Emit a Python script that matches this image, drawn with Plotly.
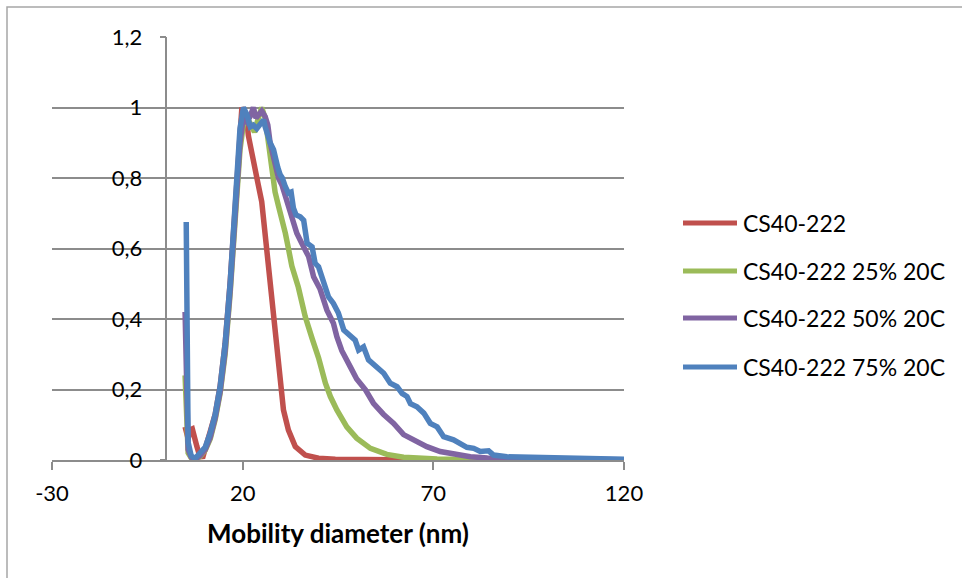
import plotly.graph_objects as go

# ---- data ----
series_names = ["CS40-222", "CS40-222 25% 20C", "CS40-222 50% 20C", "CS40-222 75% 20C"]
series_colors = ["#C0504D", "#9BBB59", "#8064A2", "#4F81BD"]

red_x = [4.9, 5.7, 6.2, 6.8, 8.0, 8.8, 9.6, 10.2, 11.5, 12.8, 14.1, 15.4, 16.7, 18.0, 19.1, 19.8,
         20.4, 21.1, 21.5, 22.4, 23.3, 24.1, 25.0, 25.9, 27.2, 28.1, 29.0, 29.8, 30.7, 32.0, 33.8,
         36.4, 39.9, 44.3, 53.5, 66.6]
red_y = [0.094, 0.06, 0.085, 0.088, 0.038, 0.009, 0.01, 0.035, 0.075, 0.13, 0.21, 0.33, 0.50, 0.71, 0.90, 1.0,
         0.985, 0.96, 0.92, 0.865, 0.81, 0.78, 0.733, 0.643, 0.50, 0.407, 0.312, 0.218, 0.142, 0.085, 0.038,
         0.014, 0.005, 0.002, 0.001, 0.0]

green_x = [4.9, 5.3, 5.7, 6.5, 7.5, 8.8, 10.2, 11.5, 12.8, 14.1, 15.4, 16.7, 18.0, 19.3, 20.4, 21.2,
           22.2, 23.1, 24.1, 25.0, 25.9, 26.8, 27.7, 28.5, 29.4, 30.7, 31.2, 32.0, 32.9, 34.6, 36.4,
           38.2, 39.9, 41.7, 43.0, 44.7, 47.3, 49.9, 53.5, 57.8, 62.2, 71.0, 82.3, 120.0]
green_y = [0.24, 0.08, 0.02, 0.006, 0.002, 0.01, 0.028, 0.06, 0.115, 0.19, 0.30, 0.47, 0.67, 0.88, 0.97, 0.97,
           0.95, 0.93, 0.97, 1.0, 0.97, 0.89, 0.82, 0.76, 0.72, 0.67, 0.643, 0.60, 0.55, 0.49, 0.407,
           0.345, 0.29, 0.218, 0.18, 0.142, 0.094, 0.062, 0.033, 0.016, 0.008, 0.003, 0.001, 0.0005]

purple_x = [4.9, 5.3, 5.7, 6.5, 7.5, 8.8, 10.2, 11.5, 12.8, 14.1, 15.4, 16.7, 18.0, 19.3, 20.2, 21.1,
            22.0, 22.8, 23.5, 24.1, 25.0, 25.9, 26.6, 27.2, 28.1, 29.4, 30.3, 31.2, 32.5, 34.2, 35.5,
            37.3, 38.6, 40.3, 42.1, 43.8, 44.7, 46.0, 48.2, 49.9, 52.2, 54.3, 56.9, 59.6, 62.2, 64.8,
            68.3, 71.8, 76.2, 79.7, 84.2, 95.5, 108.6, 120.0]
purple_y = [0.42, 0.15, 0.03, 0.008, 0.002, 0.012, 0.03, 0.065, 0.12, 0.195, 0.31, 0.48, 0.68, 0.90, 0.975, 0.96,
            0.975, 1.0, 0.97, 0.98, 0.99, 0.974, 0.95, 0.90, 0.86, 0.80, 0.78, 0.745, 0.70, 0.643, 0.615,
            0.577, 0.52, 0.485, 0.425, 0.388, 0.35, 0.31, 0.265, 0.23, 0.199, 0.161, 0.13, 0.104, 0.072, 0.057,
            0.038, 0.024, 0.014, 0.009, 0.006, 0.003, 0.002, 0.001]

blue_x = [5.2, 5.4, 5.7, 6.5, 7.5, 8.8, 10.2, 11.5, 12.8, 14.1, 15.4, 16.7, 18.0, 18.7, 19.3, 20.2,
          21.1, 22.0, 22.8, 23.7, 24.6, 25.5, 25.9, 26.6, 27.2, 28.1, 28.5, 29.2, 29.8, 30.4, 31.2,
          32.0, 32.7, 33.3, 34.0, 35.1, 36.0, 36.9, 38.2, 39.0, 39.9, 41.2, 42.5, 43.8, 45.1, 46.5,
          48.2, 49.5, 50.4, 51.7, 53.0, 55.2, 57.0, 58.7, 60.5, 61.8, 63.1, 64.0, 65.7, 67.5, 69.2,
          71.0, 72.7, 75.3, 77.1, 78.8, 80.6, 82.3, 84.5, 85.8, 89.3, 93.6, 98.1, 106.7, 120.1]
blue_y = [0.675, 0.30, 0.05, 0.012, 0.004, 0.02, 0.037, 0.077, 0.13, 0.21, 0.33, 0.50, 0.70, 0.80, 0.94, 1.0,
          0.98, 0.945, 0.95, 0.94, 0.955, 0.965, 0.945, 0.92, 0.90, 0.88, 0.855, 0.83, 0.81, 0.80, 0.775,
          0.757, 0.76, 0.715, 0.695, 0.69, 0.68, 0.615, 0.605, 0.558, 0.548, 0.50, 0.463, 0.444, 0.417, 0.369,
          0.35, 0.34, 0.312, 0.321, 0.284, 0.265, 0.246, 0.218, 0.208, 0.189, 0.18, 0.16, 0.151, 0.133, 0.104,
          0.094, 0.066, 0.057, 0.047, 0.036, 0.033, 0.024, 0.026, 0.014, 0.009, 0.008, 0.005, 0.003, 0.002]

y_tickvals = [0, 0.2, 0.4, 0.6, 0.8, 1.0, 1.2]
y_ticktext = ["0", "0,2", "0,4", "0,6", "0,8", "1", "1,2"]
x_tickvals = [-30, 20, 70, 120]
x_ticktext = ["-30", "20", "70", "120"]
x_title = "Mobility diameter (nm)"

# ---- layout constants (page pixels) ----
W, H = 962, 578
PL, PR, PT, PB = 52, 624, 37, 460
FONT = "Lato, Calibri, Carlito, sans-serif"
GRID = "#8C8C8C"

def px_x(p):
    return (p - PL) / (PR - PL)

def px_y(p):
    return (PB - p) / (PB - PT)

fig = go.Figure()
all_x = [red_x, green_x, purple_x, blue_x]
all_y = [red_y, green_y, purple_y, blue_y]
for name, col, xs, ys in zip(series_names, series_colors, all_x, all_y):
    fig.add_trace(go.Scatter(x=xs, y=ys, mode="lines", name=name,
                             line=dict(color=col, width=5.5), showlegend=False))

fig.update_layout(
    width=W, height=H,
    margin=dict(l=PL, r=W - PR, t=PT, b=H - PB, pad=0),
    paper_bgcolor="white", plot_bgcolor="white",
    font=dict(family=FONT, size=22, color="#000000"),
    showlegend=False,
)
fig.update_xaxes(
    range=[-30, 120], tickvals=x_tickvals, ticktext=x_ticktext,
    showgrid=False, zeroline=False,
    showline=True, linecolor=GRID, linewidth=1.5,
    ticks="outside", ticklen=8, tickcolor=GRID, tickwidth=1.5,
    ticklabelstandoff=5,
    title=dict(text="<b>" + x_title + "</b>", font=dict(size=26), standoff=20),
)
fig.update_yaxes(
    range=[0, 1.2], tickvals=y_tickvals, ticktext=y_ticktext,
    anchor="free", position=(0 - (-30)) / 150,
    showgrid=True, gridcolor=GRID, gridwidth=1.5,
    zeroline=False,
    showline=True, linecolor=GRID, linewidth=1.5,
    ticks="outside", ticklen=6, tickcolor=GRID, tickwidth=1.5,
    ticklabelstandoff=13,
)

# outer chart border (left and top visible)
fig.add_shape(type="rect", xref="paper", yref="paper",
              x0=px_x(7), x1=px_x(1000), y0=px_y(620), y1=px_y(7),
              line=dict(color="#A6A6A6", width=1.5), fillcolor="rgba(0,0,0,0)", layer="below")

# legend drawn manually (Excel-style long line samples)
leg_rows = [223, 271, 318, 367]
for name, col, ry in zip(series_names, series_colors, leg_rows):
    fig.add_shape(type="line", xref="paper", yref="paper",
                  x0=px_x(683), x1=px_x(737), y0=px_y(ry), y1=px_y(ry),
                  line=dict(color=col, width=5))
    fig.add_annotation(xref="paper", yref="paper", x=px_x(741), y=px_y(ry),
                       text=name, showarrow=False, xanchor="left", yanchor="middle",
                       font=dict(size=23, color="#000000"))

fig.write_html("out.html", config={"displayModeBar": False},
               post_script="document.body.style.margin='0';")
